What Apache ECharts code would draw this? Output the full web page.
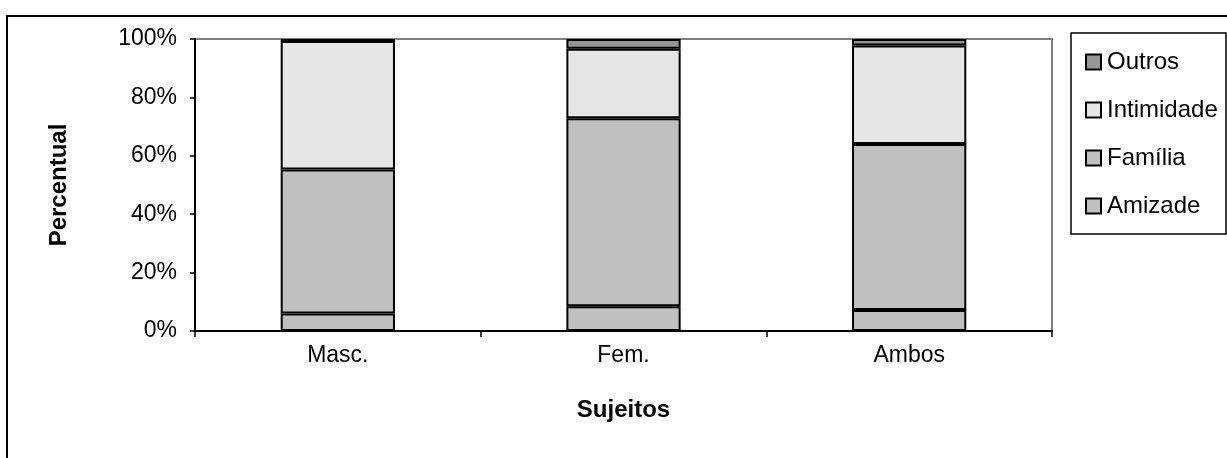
<!DOCTYPE html>
<html><head><meta charset="utf-8">
<script src="https://cdn.jsdelivr.net/npm/echarts@6/dist/echarts.min.js"></script>
<style>html,body{margin:0;padding:0;background:#fff}#c{width:1227px;height:458px}</style>
</head><body><div id="c"></div>
<script>
const categories = ['Masc.', 'Fem.', 'Ambos'];
const amizade = [6, 8.5, 7.2];
const familia = [49.3, 64.4, 56.8];
const intimidade = [44, 23.8, 33.8];
const outros = [0.7, 3.3, 2.2];
const yTicks = [0, 20, 40, 60, 80, 100];

const FONT = 'Liberation Sans, Arial, sans-serif';
const chart = echarts.init(document.getElementById('c'), null, {renderer: 'canvas'});
function bar(name, data, color) {
  return {name, type: 'bar', stack: 't', data, barWidth: '40%',
    itemStyle: {color, borderColor: '#000', borderWidth: 2}};
}
chart.setOption({
  animation: false,
  textStyle: {fontFamily: FONT},
  grid: {left: 195, top: 39, width: 857, height: 292, show: true, borderColor: '#808080', borderWidth: 2, backgroundColor: 'transparent'},
  legend: {
    orient: 'vertical', left: 1080, top: 45, itemWidth: 15, itemHeight: 15, itemGap: 24,
    data: ['Outros', 'Intimidade', 'Família', 'Amizade'],
    itemStyle: {borderColor: '#000', borderWidth: 2},
    textStyle: {fontSize: 24, color: '#000', fontFamily: FONT, padding: [0, 0, 0, 1]},
    icon: 'rect'
  },
  xAxis: {
    type: 'category', data: categories,
    axisLine: {lineStyle: {color: '#000', width: 2}},
    axisTick: {show: true, length: 6, lineStyle: {color: '#000', width: 1.5}},
    axisLabel: {fontSize: 23, color: '#000', margin: 13},
    name: 'Sujeitos', nameLocation: 'middle', nameGap: 67,
    nameTextStyle: {fontSize: 24, fontWeight: 'bold', color: '#000'}
  },
  yAxis: {
    type: 'value', min: 0, max: 100, interval: 20,
    axisLine: {show: true, lineStyle: {color: '#000', width: 2}},
    axisTick: {show: true, length: 5, lineStyle: {color: '#000', width: 1.5}},
    splitLine: {show: false},
    axisLabel: {fontSize: 23, color: '#000', margin: 18, formatter: v => yTicks.includes(v) ? v + '%' : ''},
    name: 'Percentual', nameLocation: 'middle', nameGap: 124, nameRotate: 90,
    nameTextStyle: {fontSize: 24, fontWeight: 'bold', color: '#000'}
  },
  graphic: [
    {type: 'rect', shape: {x: 7, y: 16, width: 1400, height: 600}, style: {fill: 'none', stroke: '#000', lineWidth: 2}, z: 100},
    {type: 'rect', shape: {x: 1071, y: 33, width: 155, height: 201}, style: {fill: 'none', stroke: '#000', lineWidth: 1.5}, z: 100}
  ],
  series: [
    bar('Amizade', amizade, '#C0C0C0'),
    bar('Família', familia, '#C0C0C0'),
    bar('Intimidade', intimidade, '#E6E6E6'),
    bar('Outros', outros, '#969696')
  ]
});
</script></body></html>
